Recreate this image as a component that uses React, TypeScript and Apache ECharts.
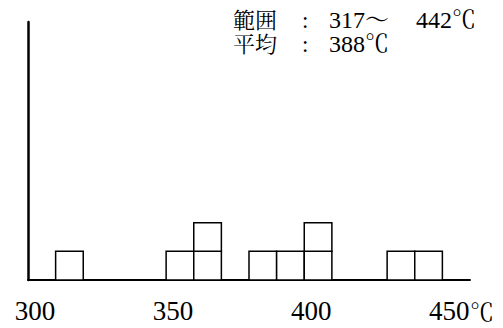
import React, { useEffect, useRef } from "react";
import * as echarts from "echarts";

// Histogram bins (°C): lower edge, upper edge, count of samples
const binStarts = [307.5, 347.5, 357.5, 377.5, 387.5, 397.5, 427.5, 437.5];
const binEnds = [317.5, 357.5, 367.5, 387.5, 397.5, 407.5, 437.5, 447.5];
const binCounts = [1, 1, 2, 1, 1, 2, 1, 1];
const tickValues = [300, 350, 400, 450];
const rangeLabel = "範囲";
const meanLabel = "平均";
const rangeMinText = "317～";
const rangeMaxText = "442℃";
const meanText = "388℃";

const SERIF = "Liberation Serif, Noto Serif CJK JP";
const CJK = "Noto Serif CJK JP";

export default function App() {
  const ref = useRef<HTMLDivElement>(null);
  useEffect(() => {
    document.body.style.margin = "0";
    if (!ref.current) return;
    const chart = echarts.init(ref.current, undefined, { renderer: "svg" });
    const data = binStarts.map((s, i) => [s, binEnds[i], binCounts[i]]);
    const txt = (left: number, top: number, text: string, family: string, size: number) => ({
      type: "text",
      left,
      top,
      style: { text, fontFamily: family, fontSize: size, lineHeight: 23, fill: "#000" },
    });
    chart.setOption({
      animation: false,
      backgroundColor: "#ffffff",
      grid: { left: 28, right: 33, top: 22, bottom: 48 },
      xAxis: {
        type: "value",
        min: 297.5,
        max: 457.5,
        axisLine: { show: true, onZero: false, lineStyle: { color: "#000", width: 2 } },
        axisTick: { show: false },
        splitLine: { show: false },
        axisLabel: {
          customValues: tickValues,
          margin: 17,
          color: "#000",
          fontFamily: SERIF,
          fontSize: 27,
          formatter: (v: number) =>
            v === 450 ? "{p|}{v|450}{u|℃}" : "{v|" + v + "}",
          rich: {
            v: { fontFamily: SERIF, fontSize: 27, color: "#000" },
            u: { fontFamily: CJK, fontSize: 24, color: "#000", width: 25 },
            p: { width: 25, fontSize: 24 },
          },
        },
      },
      yAxis: {
        type: "value",
        min: 0,
        max: 9,
        axisLine: { show: true, lineStyle: { color: "#000", width: 2.5 } },
        axisTick: { show: false },
        axisLabel: { show: false },
        splitLine: { show: false },
      },
      series: [
        {
          type: "custom",
          data,
          encode: { x: [0, 1], y: 2 },
          renderItem: (params: any, api: any) => {
            const s = api.value(0);
            const e = api.value(1);
            const n = api.value(2);
            const children: any[] = [];
            for (let k = 0; k < n; k++) {
              const p0 = api.coord([s, k]);
              const p1 = api.coord([e, k + 1]);
              children.push({
                type: "rect",
                shape: {
                  x: p0[0],
                  y: p1[1],
                  width: p1[0] - p0[0],
                  height: p0[1] - p1[1],
                },
                style: { fill: "#ffffff", stroke: "#000", lineWidth: 1.5 },
              });
            }
            return { type: "group", children };
          },
        },
      ],
      graphic: [
        txt(233, 9, rangeLabel, SERIF, 22),
        txt(302, 9, ":", SERIF, 23),
        txt(329, 8, rangeMinText, SERIF, 24),
        txt(416, 8, rangeMaxText, SERIF, 24),
        txt(233, 33, meanLabel, SERIF, 22),
        txt(302, 33, ":", SERIF, 23),
        txt(329, 32, meanText, SERIF, 24),
      ],
    });
    return () => chart.dispose();
  }, []);
  return <div ref={ref} style={{ width: 503, height: 328 }} />;
}
